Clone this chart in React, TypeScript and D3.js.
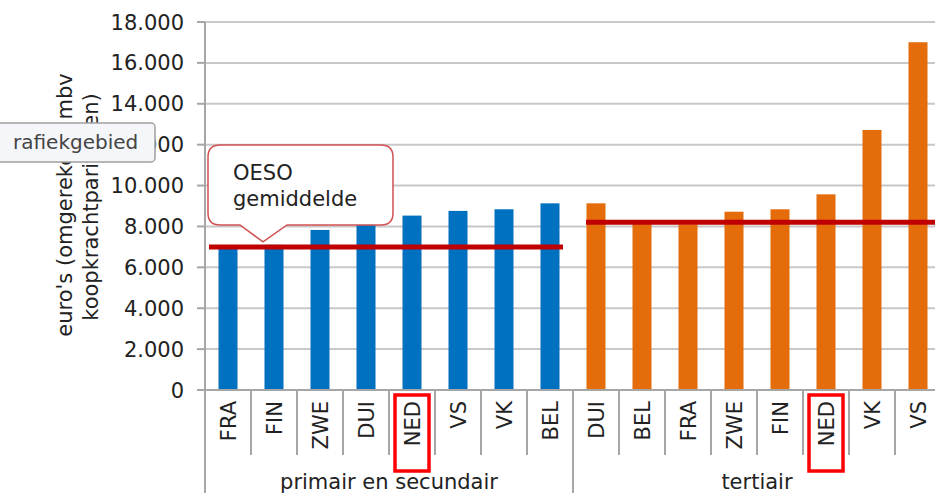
import * as d3 from "d3";
import React from "react";

// uitgaven per leerling/student, euro's (koopkrachtpariteiten)
const primaryCats = ["FRA", "FIN", "ZWE", "DUI", "NED", "VS", "VK", "BEL"];
const primaryValues = [7050, 7100, 7830, 8150, 8530, 8760, 8840, 9130];
const tertiaryCats = ["DUI", "BEL", "FRA", "ZWE", "FIN", "NED", "VK", "VS"];
const tertiaryValues = [9130, 8150, 8100, 8720, 8840, 9570, 12720, 17010];
const groupLabels = ["primair en secundair", "tertiair"];
const oecdAverages = [7000, 8200];
const yTicks = [0, 2000, 4000, 6000, 8000, 10000, 12000, 14000, 16000, 18000];
const highlight = "NED";

const W = 935;
const H = 493;
const FONT = "DejaVu Sans";
const FS = 21;
const BLUE = "#0070c0";
const ORANGE = "#e46c0a";
const DARKRED = "#c00000";

const nl = d3.formatLocale({ decimal: ",", thousands: ".", grouping: [3], currency: ["€", ""] });
const fmt = nl.format(",");

export default function App() {
    const rows = [
        ...primaryCats.map((c, i) => ({ key: "p" + i, cat: c, value: primaryValues[i], group: 0 })),
        ...tertiaryCats.map((c, i) => ({ key: "t" + i, cat: c, value: tertiaryValues[i], group: 1 })),
    ];

    const x = d3.scaleBand().domain(rows.map((d) => d.key)).range([205, 941]).padding(0);
    const y = d3.scaleLinear().domain([0, 18000]).range([390, 22]);
    const step = x.step();
    const barW = 19;

    const groupStart = [x("p0"), x("t0")];
    const groupEnd = [x("p7") + step, x("t7") + step];
    // oeso lijnen: inspringing links/rechts
    const lineInset = [[4, 10], [13, -10]];

    // callout
    const cx0 = 208, cy0 = 145, cx1 = 393, cy1 = 225, cr = 12;
    const tipX = 263, tipY = y(oecdAverages[0]) - 5;
    const calloutPath = [
        `M${cx0 + cr},${cy0}`,
        `H${cx1 - cr}`,
        `Q${cx1},${cy0} ${cx1},${cy0 + cr}`,
        `V${cy1 - cr}`,
        `Q${cx1},${cy1} ${cx1 - cr},${cy1}`,
        `H287`,
        `L${tipX},${tipY}`,
        `L240,${cy1}`,
        `H${cx0 + cr}`,
        `Q${cx0},${cy1} ${cx0},${cy1 - cr}`,
        `V${cy0 + cr}`,
        `Q${cx0},${cy0} ${cx0 + cr},${cy0}`,
        "Z",
    ].join(" ");

    return (
        <svg
            width={W}
            height={H}
            style={{ position: "absolute", left: 0, top: 0, background: "#fff" }}
            fontFamily={FONT}
        >
            {/* rasterlijnen */}
            {yTicks.slice(1).map((t) => (
                <line key={t} x1={205} x2={W} y1={y(t)} y2={y(t)} stroke="#c8c8c8" strokeWidth={2} />
            ))}

            {/* staven */}
            {rows.map((d) => (
                <rect
                    key={d.key}
                    x={x(d.key) + step / 2 - barW / 2}
                    y={y(d.value)}
                    width={barW}
                    height={y(0) - y(d.value)}
                    fill={d.group === 0 ? BLUE : ORANGE}
                />
            ))}

            {/* OESO gemiddelde */}
            {oecdAverages.map((v, i) => (
                <line
                    key={i}
                    x1={groupStart[i] + lineInset[i][0]}
                    x2={groupEnd[i] - lineInset[i][1]}
                    y1={y(v)}
                    y2={y(v)}
                    stroke={DARKRED}
                    strokeWidth={5}
                />
            ))}

            {/* y-as */}
            <line x1={205} x2={205} y1={y(18000)} y2={H} stroke="#a6a6a6" strokeWidth={2} />
            {yTicks.map((t) => (
                <g key={t} transform={`translate(0,${y(t)})`}>
                    <line x1={197} x2={205} stroke="#a6a6a6" strokeWidth={2} />
                    <text x={184} dy="0.36em" textAnchor="end" fontSize={FS} fill="#222">
                        {fmt(t)}
                    </text>
                </g>
            ))}
            <line x1={205} x2={W} y1={y(0)} y2={y(0)} stroke="#a6a6a6" strokeWidth={2} />

            {/* y-as titel */}
            <text transform="translate(72,205) rotate(-90)" textAnchor="middle" fontSize={FS} fill="#222">
                euro's (omgerekend mbv
            </text>
            <text transform="translate(98,207) rotate(-90)" textAnchor="middle" fontSize={FS} fill="#222">
                koopkrachtpariteiten)
            </text>

            {/* categorie-as */}
            {rows.map((d, i) => {
                const boundary = x(d.key);
                const isGroupEdge = i % 8 === 0;
                return (
                    <line
                        key={"s" + d.key}
                        x1={boundary}
                        x2={boundary}
                        y1={y(0)}
                        y2={isGroupEdge ? H : 455}
                        stroke="#a6a6a6"
                        strokeWidth={2}
                    />
                );
            })}
            <line x1={groupEnd[1]} x2={groupEnd[1]} y1={y(0)} y2={H} stroke="#a6a6a6" strokeWidth={2} />
            {rows.map((d) => (
                <text
                    key={"l" + d.key}
                    transform={`translate(${x(d.key) + step / 2},401) rotate(-90)`}
                    dy="0.36em"
                    textAnchor="end"
                    fontSize={FS}
                    fill="#222"
                >
                    {d.cat}
                </text>
            ))}
            {rows
                .filter((d) => d.cat === highlight)
                .map((d) => (
                    <rect
                        key={"h" + d.key}
                        x={x(d.key) + step / 2 - 17}
                        y={395}
                        width={34}
                        height={76}
                        fill="none"
                        stroke="#ff0000"
                        strokeWidth={3.5}
                    />
                ))}
            {groupLabels.map((g, i) => (
                <text
                    key={g}
                    x={(groupStart[i] + groupEnd[i]) / 2}
                    y={489}
                    textAnchor="middle"
                    fontSize={FS}
                    fill="#222"
                >
                    {g}
                </text>
            ))}

            {/* callout */}
            <path d={calloutPath} fill="#fff" stroke="#d05050" strokeWidth={1.5} />
            <text x={233} y={180} fontSize={FS} fill="#222">OESO</text>
            <text x={233} y={206} fontSize={FS} fill="#222">gemiddelde</text>

            {/* tooltip */}
            <rect x={-6} y={123} width={161} height={39} rx={4} fill="#f4f6f9" stroke="#a0a0a0" strokeWidth={1.5} />
            <text x={13} y={149} fontSize={20} fill="#444">rafiekgebied</text>
        </svg>
    );
}
